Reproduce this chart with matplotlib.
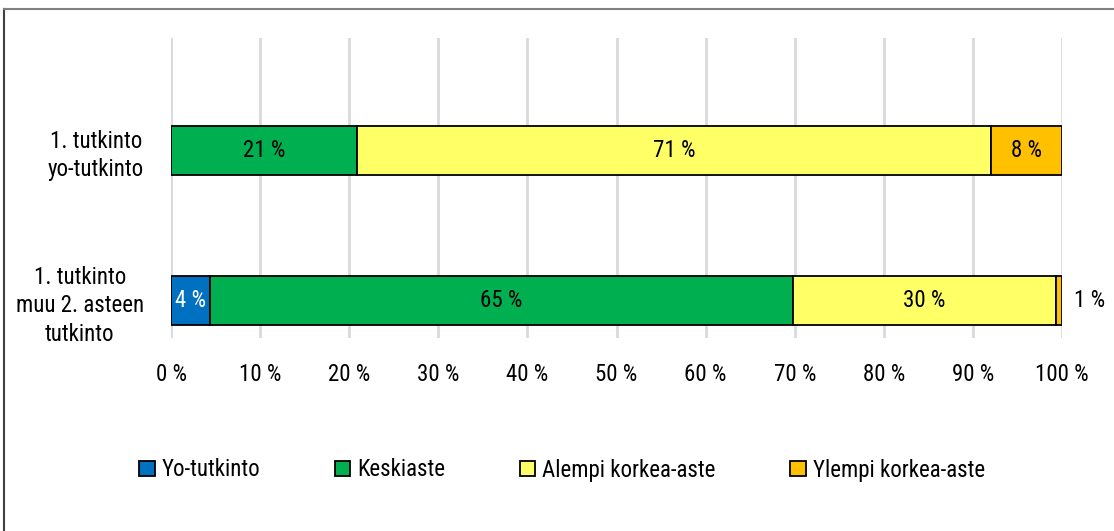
import numpy as np
import matplotlib.pyplot as plt
from matplotlib.lines import Line2D

plt.rcParams['font.family'] = ['Roboto Condensed', 'Liberation Sans', 'DejaVu Sans']

# Data
categories = ['1. tutkinto\nmuu 2. asteen\ntutkinto', '1. tutkinto\nyo-tutkinto']
series_names = ['Yo-tutkinto', 'Keskiaste', 'Alempi korkea-aste', 'Ylempi korkea-aste']
yo_tutkinto = [4.4, 0.0]
keskiaste = [65.4, 20.9]
alempi = [29.5, 71.1]
ylempi = [0.7, 8.0]
colors = ['#0070C0', '#00B050', '#FFFF66', '#FFC000']
label_colors = ['white', 'black', 'black', 'black']

series = [yo_tutkinto, keskiaste, alempi, ylempi]
FS = 16.5

fig = plt.figure(figsize=(11.14, 5.31), dpi=100)
ax = fig.add_axes([171 / 1114, 1 - 338 / 531, 891 / 1114, 300 / 531])

y = np.arange(len(categories))
left = np.zeros(len(categories))
for vals, name, col, tcol in zip(series, series_names, colors, label_colors):
    vals = np.array(vals)
    ax.barh(y, vals, left=left, height=0.327, color=col, edgecolor='black',
            linewidth=1.3, label=name, zorder=3)
    for yi, v, l in zip(y, vals, left):
        if v <= 0:
            continue
        txt = f'{v:.0f} %'
        if v < 2:
            ax.text(l + v + 1.3, yi, txt, ha='left', va='center',
                    fontsize=FS, color='black')
        else:
            ax.text(l + v / 2, yi, txt, ha='center', va='center',
                    fontsize=FS, color=tcol)
    left = left + vals

ax.set_xlim(0, 100)
ax.set_ylim(-0.25, 1.75)
ax.set_xticks(np.arange(0, 101, 10))
ax.set_xticklabels([f'{t} %' for t in range(0, 101, 10)], fontsize=FS)
ax.set_yticks(y)
ax.set_yticklabels(categories, fontsize=FS, linespacing=1.3, multialignment='center')
ax.tick_params(axis='x', length=0, pad=18)
ax.tick_params(axis='y', length=0, pad=19.5)
ax.grid(axis='x', color='#D9D9D9', linewidth=2, zorder=0)
for s in ax.spines.values():
    s.set_visible(False)

handles = [plt.Rectangle((0, 0), 1, 1, facecolor=c, edgecolor='black', linewidth=1.3)
           for c in colors]
fig.legend(handles, series_names, loc='center', bbox_to_anchor=(562 / 1114, 1 - 470 / 531),
           ncol=4, frameon=False, fontsize=FS, handlelength=0.68, handleheight=0.68,
           handletextpad=0.3, columnspacing=3.25)

# outer frame
fig.add_artist(Line2D([4 / 1114, 4 / 1114], [0, 1 - 9 / 531], transform=fig.transFigure,
                      color='#404040', linewidth=1.5))
fig.add_artist(Line2D([4 / 1114, 1], [1 - 9 / 531, 1 - 9 / 531], transform=fig.transFigure,
                      color='#808080', linewidth=1.5))

fig.savefig('out.png', dpi=100)
